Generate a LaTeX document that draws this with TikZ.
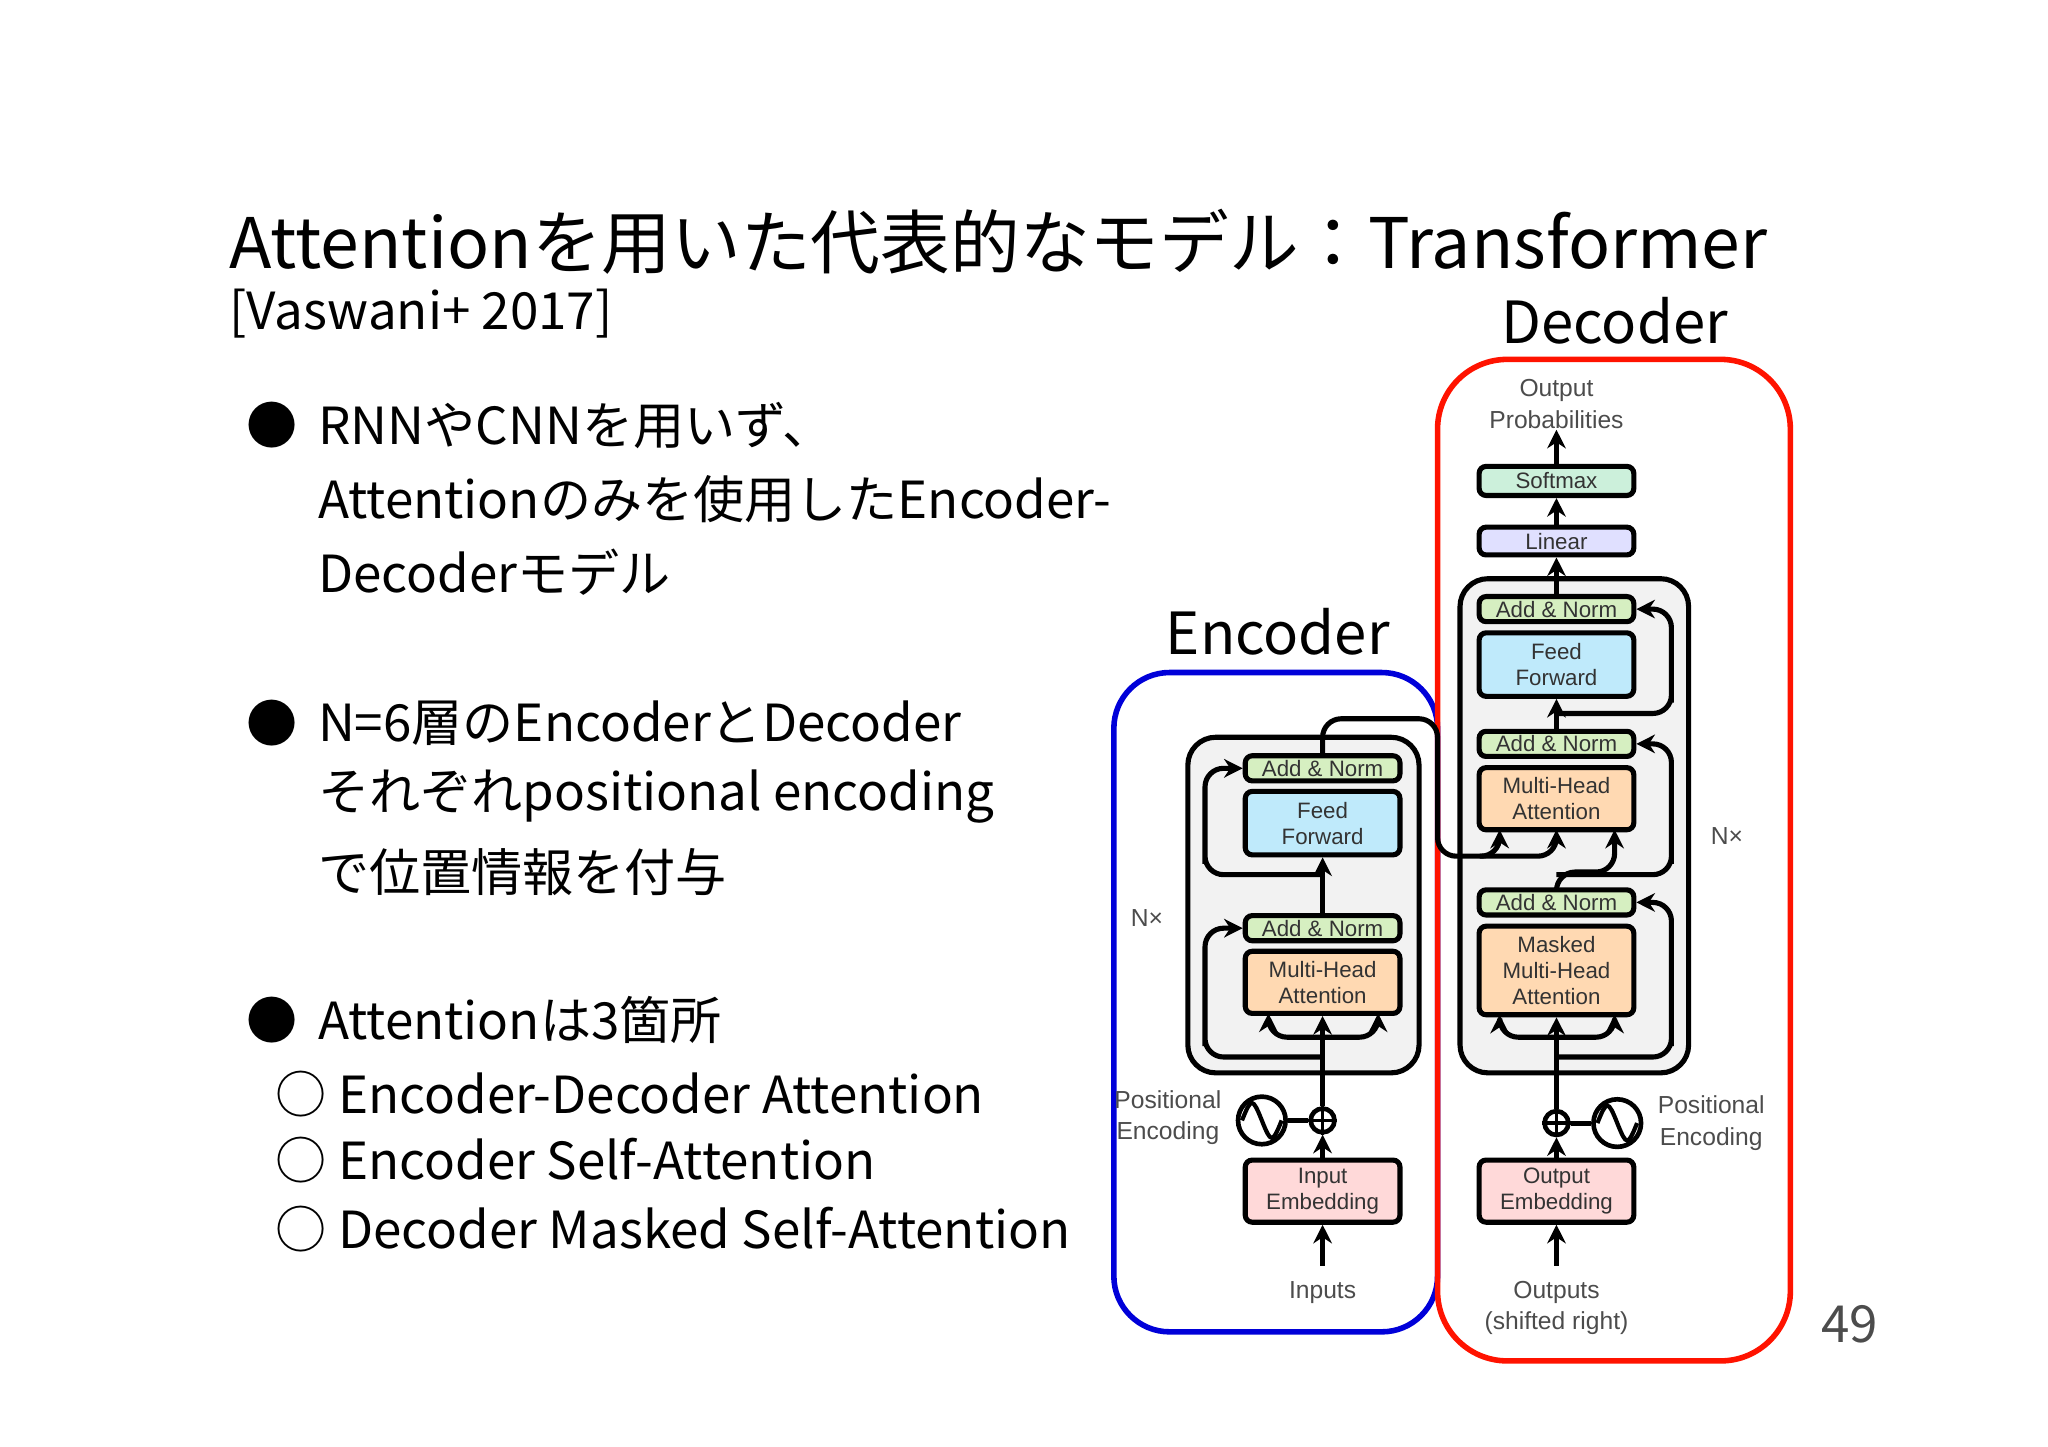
\documentclass[tikz,border=0pt]{standalone}
\usepackage{fontspec}
\setmainfont{Noto Sans CJK JP}
\newfontfamily\dfont{Liberation Sans}
\usetikzlibrary{arrows.meta}
\begin{document}
\begin{tikzpicture}[x=0.01cm,y=-0.01cm,
  blk/.style={draw=black,line width=1.1pt,rounded corners=1.5pt,minimum width=1.17cm,inner sep=0pt,font=\dfont\fontsize{4.8}{5.6}\selectfont,align=center,text=black!80},
  an/.style={blk,fill=yellow!35!green!25,minimum height=0.19cm},
  ff/.style={blk,fill=cyan!25,minimum height=0.48cm},
  mh/.style={blk,fill=orange!30,minimum height=0.47cm},
  emb/.style={blk,fill=red!15,minimum height=0.47cm},
  ln/.style={line width=1.1pt,black,rounded corners=4pt},
  ar/.style={ln,-{Stealth[length=4pt,width=4pt]}},
  lab/.style={font=\dfont\fontsize{5.3}{6.8}\selectfont,text=black!70,align=center,inner sep=0pt},
  body/.style={font=\fontsize{11}{13}\selectfont,anchor=west,inner sep=0pt},
  dot/.style={font=\fontsize{11}{13}\selectfont,inner sep=0pt},
  sine/.style={line width=0.9pt}]
\useasboundingbox (0,0) rectangle (1550,1095);
% title
\node[anchor=base west,inner sep=0pt,font=\fontsize{15}{18}\selectfont] (title) at (173,203) {Attentionを用いた代表的なモデル：Transformer};
\node[anchor=west,inner sep=0pt,font=\fontsize{11}{12}\selectfont] (cite) at (173,237) {[Vaswani+ 2017]};
\node[inner sep=0pt,font=\fontsize{12.5}{14}\selectfont] (declab) at (1222,243) {Decoder};
\node[inner sep=0pt,font=\fontsize{12.5}{14}\selectfont] (enclab) at (967,478) {Encoder};
% bullets
\node[dot] (d1) at (206,322) {●};
\node[body] (b1) at (240,322) {RNNやCNNを用いず、};
\node[body] (b1b) at (240,378) {Attentionのみを使用したEncoder-};
\node[body] (b1c) at (240,433) {Decoderモデル};
\node[dot] (d2) at (206,547) {●};
\node[body] (b2) at (240,547) {N=6層のEncoderとDecoder};
\node[body] (b2b) at (240,603) {それぞれpositional encoding};
\node[body] (b2c) at (240,660) {で位置情報を付与};
\node[dot] (d3) at (206,772) {●};
\node[body] (b3) at (240,772) {Attentionは3箇所};
\node[body] (s1) at (208,828) {○ Encoder-Decoder Attention};
\node[body] (s2) at (208,878) {○ Encoder Self-Attention};
\node[body] (s3) at (208,930) {○ Decoder Masked Self-Attention};
\node[inner sep=0pt,font=\fontsize{11}{12}\selectfont,text=black!70] (pg) at (1400,1002) {49};
% outer boxes
\draw[blue!85!black,line width=1.2pt,rounded corners=12pt] (843,509) rectangle (1088,1008);
\draw[red!85!orange,line width=1.2pt,rounded corners=15pt] (1088,272) rectangle (1355,1030);
% grey blocks
\draw[line width=1.1pt,fill=gray!10,rounded corners=6pt] (899,558) rectangle (1074,812);
\draw[line width=1.1pt,fill=gray!10,rounded corners=6pt] (1105,438) rectangle (1278,812);
% ---------- encoder
\node[an] (ean2) at (1001,581.5) {Add \& Norm};
\node[ff] (eff) at (1001,623) {Feed\\Forward};
\node[an] (ean1) at (1001,702.5) {Add \& Norm};
\node[mh] (emh) at (1001,743.5) {Multi-Head\\Attention};
\node[emb] (eemb) at (1001,901.5) {Input\\Embedding};
\node[draw,circle,line width=1pt,minimum size=0.18cm,inner sep=0pt] (eplus) at (1001,848) {};
\draw[line width=0.8pt] (eplus.north) -- (eplus.south) (eplus.west) -- (eplus.east);
\node[draw,circle,line width=1pt,minimum size=0.36cm,inner sep=0pt] (esin) at (955,848) {};
\draw[sine] ([xshift=-0.15cm]esin.center) .. controls +(2pt,5pt) and +(-2pt,5pt) .. (esin.center) .. controls +(2pt,-5pt) and +(-2pt,-5pt) .. ([xshift=0.15cm]esin.center);
\draw[ln] (esin) -- (eplus);
\node[lab,anchor=east] (epos) at (925,846) {Positional\\Encoding};
\node[lab] (einp) at (1001,978) {Inputs};
\node[lab] (enx) at (868,695) {N×};
\coordinate (ein0) at (1001,958);
\draw[ar] (ein0) -- (eemb.south);
\draw[ar] (eemb.north) -- (eplus.south);
\coordinate (eb1) at (1001,785);
\coordinate (el1) at (912,800);
\draw[ln] (eplus.north) -- (eb1);
\draw[ar] (1001,785) -- (emh.south);
\draw[ar] (1001,785) -| (960,767);
\draw[ar] (1001,785) -| (1043,767);
\draw[ar] (1001,800) -| (el1) |- (ean1.west);
\draw[ar] (ean1.north) -- (eff.south);
\coordinate (el2) at (912,662);
\draw[ar] (1001,662) -| (el2) |- (ean2.west);
% ---------- decoder
\node[blk,fill=green!40!teal!20,minimum height=0.22cm] (soft) at (1178,364) {Softmax};
\node[blk,fill=blue!12,minimum height=0.21cm] (lin) at (1178,409.5) {Linear};
\node[an] (dan3) at (1178,461) {Add \& Norm};
\node[ff] (dff) at (1178,503) {Feed\\Forward};
\node[an] (dan2) at (1178,563) {Add \& Norm};
\node[mh] (dmh) at (1178,604.5) {Multi-Head\\Attention};
\node[an] (dan1) at (1178,683) {Add \& Norm};
\node[mh,minimum height=0.67cm] (dmm) at (1178,734.5) {Masked\\Multi-Head\\Attention};
\node[emb] (demb) at (1178,901.5) {Output\\Embedding};
\node[draw,circle,line width=1pt,minimum size=0.18cm,inner sep=0pt] (dplus) at (1178,850) {};
\draw[line width=0.8pt] (dplus.north) -- (dplus.south) (dplus.west) -- (dplus.east);
\node[draw,circle,line width=1pt,minimum size=0.36cm,inner sep=0pt] (dsin) at (1224,850) {};
\draw[sine] ([xshift=-0.15cm]dsin.center) .. controls +(2pt,5pt) and +(-2pt,5pt) .. (dsin.center) .. controls +(2pt,-5pt) and +(-2pt,-5pt) .. ([xshift=0.15cm]dsin.center);
\draw[ln] (dsin) -- (dplus);
\node[lab,anchor=west] (dpos) at (1254,850) {Positional\\Encoding};
\node[lab] (dout) at (1178,990) {Outputs\\(shifted right)};
\node[lab] (dprob) at (1178,306) {Output\\Probabilities};
\node[lab] (dnx) at (1307,633) {N×};
\coordinate (din0) at (1178,958);
\draw[ar] (din0) -- (demb.south);
\draw[ar] (demb.north) -- (dplus.south);
\draw[ln] (dplus.north) -- (1178,785);
\draw[ar] (1178,785) -- (dmm.south);
\draw[ar] (1178,785) -| (1135,768);
\draw[ar] (1178,785) -| (1222,768);
\coordinate (dr1) at (1265,800);
\draw[ar] (1178,800) -| (dr1) |- (dan1.east);
\draw[ar] (dan1.north) -- (1178,660) -| (1222,628);
\coordinate (dr2) at (1265,662);
\draw[ar] (1178,662) -| (dr2) |- (dan2.east);
\draw[ar] (dan2.north) -- (dff.south);
\coordinate (dr3) at (1265,540);
\draw[ar] (1178,540) -| (dr3) |- (dan3.east);
\draw[ar] (dan3.north) -- (lin.south);
\draw[ar] (lin.north) -- (soft.south);
\draw[ar] (soft.north) -- (dprob.south);
% encoder -> decoder
\coordinate (c1) at (1088,544);
\coordinate (c2) at (1088,648);
\draw[ln] (ean2.north) |- (c1) -- (c2) -- (1120,648);
\draw[ar] (1120,648) -| (1135,628);
\draw[ar] (1120,648) -| (1178,628);
\end{tikzpicture}
\end{document}
